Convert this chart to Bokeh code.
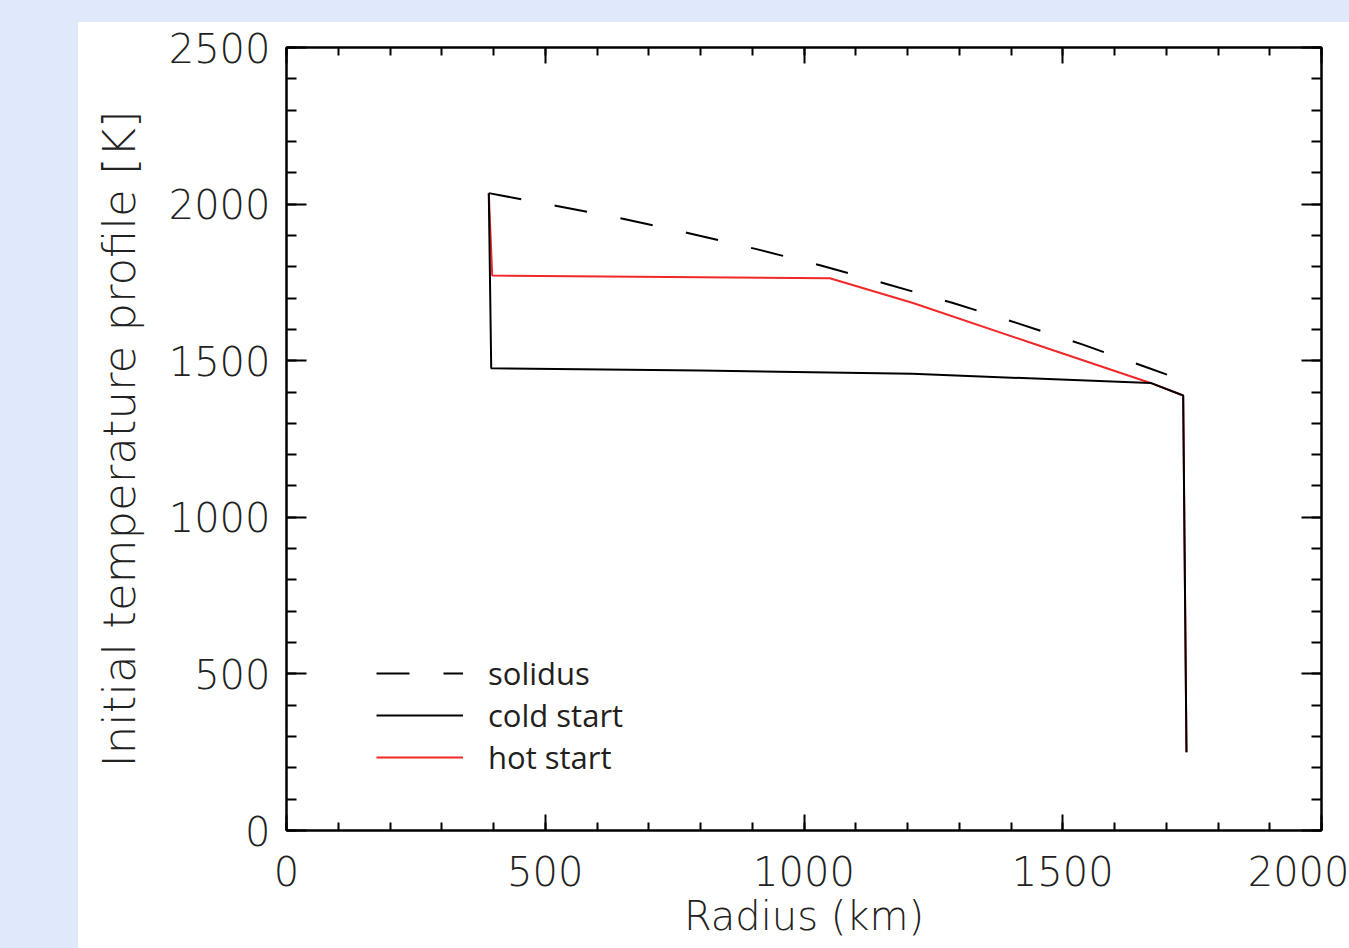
from bokeh.plotting import figure
from bokeh.models import (Range1d, FixedTicker, LinearAxis, Legend, LegendItem, Spacer)
from bokeh.layouts import column, row
from bokeh.embed import file_html
from bokeh.resources import INLINE

# ---- data ----
solidus_r = [390.9, 519.8, 649.9, 777.4, 906.3, 1032.7, 1159.4, 1286.4, 1412.0, 1537.6, 1661.8, 1721.1]
solidus_t = [2035, 1995, 1953, 1907, 1857, 1804, 1745, 1685, 1620, 1552, 1479, 1444]

cold_r = [390.9, 395.6, 800.0, 1209.0, 1669.6, 1732.7, 1739.1]
cold_t = [2035, 1476, 1469, 1458, 1429, 1389, 250]

hot_r = [390.9, 397.5, 1049.9, 1209.1, 1444.0, 1669.6, 1732.7, 1739.1]
hot_t = [2035, 1772, 1763, 1685, 1554, 1429, 1389, 250]

x_major = [0, 500, 1000, 1500, 2000]
y_major = [0, 500, 1000, 1500, 2000, 2500]
x_minor = list(range(0, 2001, 100))
y_minor = list(range(0, 2501, 100))

BLUE_BG = "#dfe9fb"
TICK_FONT = "DejaVu Sans Light, Lato Light, sans-serif"
LEG_FONT = "Open Sans"

p = figure(
    frame_width=1035, frame_height=783,
    x_range=Range1d(0, 2000), y_range=Range1d(0, 2500),
    output_backend="svg", toolbar_location=None,
    min_border_left=208, min_border_right=28, min_border_top=25, min_border_bottom=118,
    border_fill_color="white", background_fill_color="white",
)
p.grid.visible = False
p.outline_line_color = "black"
p.outline_line_width = 2

# main axes
xa = p.xaxis[0]
ya = p.yaxis[0]
xa.ticker = FixedTicker(ticks=x_major, minor_ticks=x_minor)
ya.ticker = FixedTicker(ticks=y_major, minor_ticks=y_minor)
for ax in (xa, ya):
    ax.axis_line_color = "black"
    ax.axis_line_width = 2
    ax.major_tick_line_color = "black"
    ax.minor_tick_line_color = "black"
    ax.major_tick_line_width = 2
    ax.minor_tick_line_width = 2
    ax.major_tick_out = 0
    ax.minor_tick_out = 0
    ax.major_label_text_font = TICK_FONT
    ax.major_label_text_font_size = "40px"
    ax.major_label_text_color = "#222222"
    ax.axis_label_text_font = TICK_FONT
    ax.axis_label_text_font_style = "normal"
    ax.axis_label_text_color = "#222222"
xa.axis_label_text_font_size = "40px"
ya.axis_label_text_font_size = "45px"
xa.major_tick_in = 16
xa.minor_tick_in = 8
ya.major_tick_in = 20
ya.minor_tick_in = 10
xa.major_label_standoff = 25
ya.major_label_standoff = 16
xa.axis_label = "Radius (km)"
ya.axis_label = "Initial temperature profile [K]"
xa.axis_label_standoff = 4
ya.axis_label_standoff = 20

# mirrored axes (ticks only, labels not drawn)
top = LinearAxis(ticker=FixedTicker(ticks=x_major, minor_ticks=x_minor))
right = LinearAxis(ticker=FixedTicker(ticks=y_major, minor_ticks=y_minor))
for ax, maj, mnr in ((top, 16, 8), (right, 20, 10)):
    ax.axis_line_color = "black"
    ax.axis_line_width = 2
    ax.major_tick_line_color = "black"
    ax.minor_tick_line_color = "black"
    ax.major_tick_line_width = 2
    ax.minor_tick_line_width = 2
    ax.major_tick_out = 0
    ax.minor_tick_out = 0
    ax.major_tick_in = maj
    ax.minor_tick_in = mnr
    ax.major_label_text_font_size = "1px"
    ax.major_label_text_color = None
    ax.major_label_standoff = 0
p.add_layout(top, "above")
p.add_layout(right, "right")

# data lines
r_sol = p.line(solidus_r, solidus_t, line_color="black", line_width=2, line_dash="33 34")
r_hot = p.line(hot_r, hot_t, line_color="#f02828", line_width=2)
r_cold = p.line(cold_r, cold_t, line_color="black", line_width=2)

legend = Legend(
    items=[LegendItem(label="solidus", renderers=[r_sol]),
           LegendItem(label="cold start", renderers=[r_cold]),
           LegendItem(label="hot start", renderers=[r_hot])],
    location=(90, 52),
    glyph_width=87, glyph_height=30, label_height=30, label_standoff=25,
    spacing=-2, padding=0, margin=0,
    border_line_color=None, background_fill_alpha=0,
    label_text_font=LEG_FONT, label_text_font_size="31px", label_text_color="#231f20",
)
p.add_layout(legend, "center")

top_strip = Spacer(width=1349, height=22, styles={"background-color": BLUE_BG})
left_strip = Spacer(width=78, height=926, styles={"background-color": BLUE_BG})
layout = column(top_strip, row(left_strip, p, spacing=0), spacing=0)

open("out.html", "w").write(file_html(layout, INLINE))
